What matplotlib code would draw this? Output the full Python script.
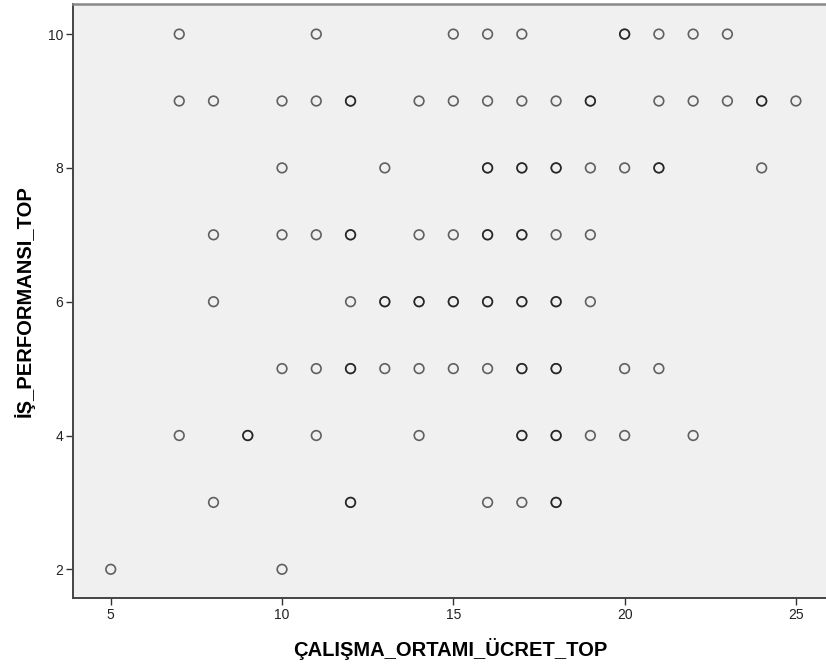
import matplotlib.pyplot as plt

plt.rcParams['font.family'] = ['Liberation Sans', 'DejaVu Sans']

# ÇALIŞMA_ORTAMI_ÜCRET_TOP values, one list per İŞ_PERFORMANSI_TOP level
# repeated x values are duplicate cases (drawn darker, like SPSS)
rows = {
    10: [7, 11, 15, 16, 17, 20, 20, 21, 22, 23],
    9: [7, 8, 10, 11, 12, 12, 14, 15, 16, 17, 18, 19, 19, 21, 22, 23, 24, 24, 25],
    8: [10, 13, 16, 16, 17, 17, 18, 18, 19, 20, 21, 21, 24],
    7: [8, 10, 11, 12, 12, 14, 15, 16, 16, 17, 17, 18, 19],
    6: [8, 12, 13, 13, 14, 14, 15, 15, 16, 16, 17, 17, 18, 18, 19],
    5: [10, 11, 12, 12, 13, 14, 15, 16, 17, 17, 18, 18, 20, 21],
    4: [7, 9, 9, 11, 14, 17, 17, 18, 18, 19, 20, 22],
    3: [8, 12, 12, 16, 17, 18, 18],
    2: [5, 10],
}

x_vals = []
y_vals = []
for level, xs in rows.items():
    x_vals.extend(xs)
    y_vals.extend([level] * len(xs))

fig = plt.figure(figsize=(8.26, 6.66), dpi=100)
ax = fig.add_axes([0.088, 0.102, 0.915, 0.892])
ax.set_facecolor('#f0f0f0')

ax.scatter(x_vals, y_vals, s=48, facecolors='none', edgecolors='black',
           linewidths=1.2, alpha=0.6, zorder=3)

ax.set_xlim(3.89, 25.95)
ax.set_ylim(1.57, 10.45)
ax.set_xticks([5, 10, 15, 20, 25])
ax.set_yticks([2, 4, 6, 8, 10])
ax.tick_params(direction='out', length=5, width=1, colors='#333333',
               labelsize=10, labelcolor='#222222', pad=2)

for side in ['left', 'bottom']:
    ax.spines[side].set_color('#444444')
    ax.spines[side].set_linewidth(1.4)
ax.spines['top'].set_color('#888888')
ax.spines['top'].set_linewidth(1.8)
ax.spines['right'].set_visible(False)

ax.set_xlabel('ÇALIŞMA_ORTAMI_ÜCRET_TOP', fontsize=14.5, fontweight='bold', labelpad=12)
ax.set_ylabel('İŞ_PERFORMANSI_TOP', fontsize=14.5, fontweight='bold', labelpad=9)

fig.savefig('out.png', dpi=100)
